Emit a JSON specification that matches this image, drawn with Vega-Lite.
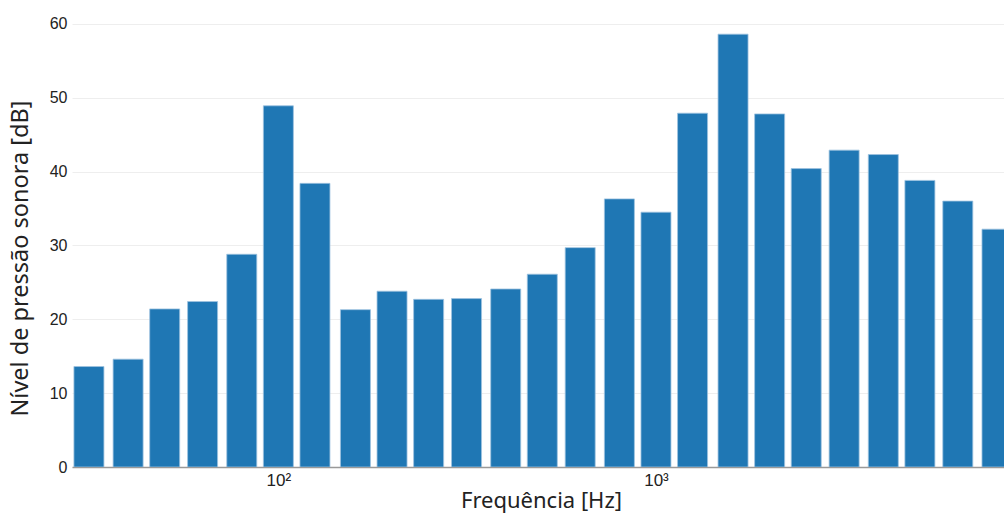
{
  "$schema": "https://vega.github.io/schema/vega-lite/v6.json",
  "autosize": {"type": "none"},
  "padding": {"left": 72, "top": 12, "right": 0, "bottom": 48},
  "width": 932,
  "height": 455,
  "background": "white",
  "data": {"values": [
    {"f": 31.5, "L": 13.6},
    {"f": 40, "L": 14.6},
    {"f": 50, "L": 21.4},
    {"f": 63, "L": 22.4},
    {"f": 80, "L": 28.8},
    {"f": 100, "L": 48.9},
    {"f": 125, "L": 38.4},
    {"f": 160, "L": 21.3},
    {"f": 200, "L": 23.8},
    {"f": 250, "L": 22.7},
    {"f": 315, "L": 22.8},
    {"f": 400, "L": 24.1},
    {"f": 500, "L": 26.1},
    {"f": 630, "L": 29.7},
    {"f": 800, "L": 36.3},
    {"f": 1000, "L": 34.5},
    {"f": 1250, "L": 47.9},
    {"f": 1600, "L": 58.6},
    {"f": 2000, "L": 47.8},
    {"f": 2500, "L": 40.4},
    {"f": 3150, "L": 42.9},
    {"f": 4000, "L": 42.3},
    {"f": 5000, "L": 38.8},
    {"f": 6300, "L": 36.0},
    {"f": 8000, "L": 32.2}
  ]},
  "mark": {"type": "bar", "size": 30, "clip": true, "color": "#1f77b4", "stroke": "#9ec3df", "strokeWidth": 0.8},
  "encoding": {
    "x": {
      "field": "f", "type": "quantitative",
      "scale": {"type": "log", "domain": [28.41, 8350], "nice": false, "padding": 0},
      "axis": {
        "title": "Frequência [Hz]", "titleFont": "Noto Sans", "titleFontSize": 22, "titleFontWeight": "normal", "titleColor": "#222",
        "titleX": 469, "titleY": 40, "titleBaseline": "alphabetic", "titleAlign": "center",
        "values": [100, 1000],
        "labelExpr": "datum.value == 100 ? '10²' : '10³'",
        "labelFont": "Liberation Sans", "labelFontSize": 17, "labelColor": "#222", "labelPadding": 5,
        "ticks": false, "grid": false, "domainColor": "#999", "domainWidth": 1.5
      }
    },
    "y": {
      "field": "L", "type": "quantitative",
      "scale": {"domain": [0, 61.6], "nice": false},
      "axis": {
        "title": "Nível de pressão sonora [dB]", "titleFont": "Noto Sans", "titleFontSize": 23.5, "titleFontWeight": "normal", "titleColor": "#222",
        "titleX": -44.5, "titleY": 246, "titleBaseline": "alphabetic", "titleAlign": "center", "titleAngle": -90,
        "values": [0, 10, 20, 30, 40, 50, 60],
        "labelFont": "Liberation Sans", "labelFontSize": 16, "labelColor": "#222", "labelPadding": 5,
        "ticks": false, "domain": false, "gridColor": "#eeeeee", "gridWidth": 1
      }
    }
  },
  "config": {"view": {"stroke": null}}
}
